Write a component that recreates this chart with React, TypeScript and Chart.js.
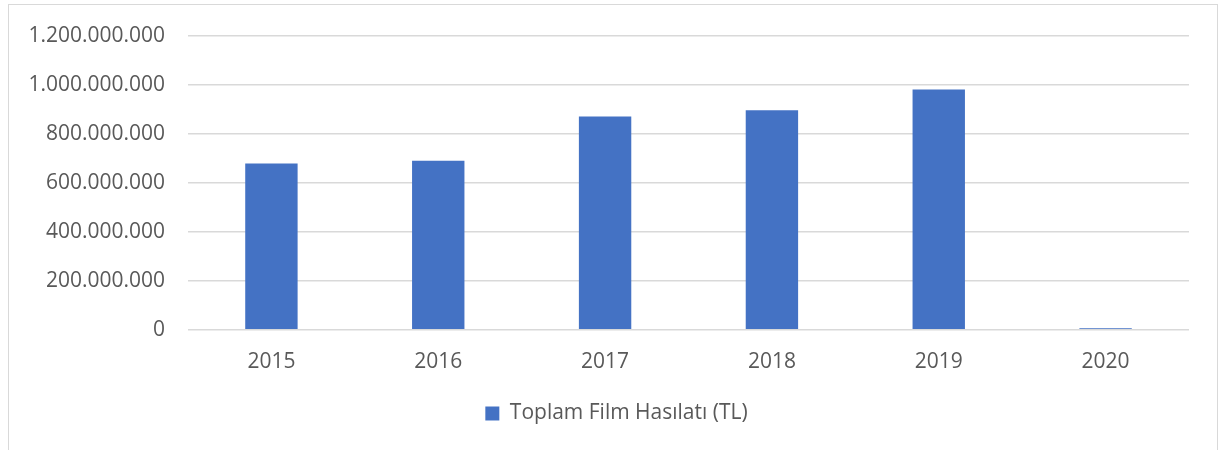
import React, { useEffect, useRef } from "react";
import { Chart, registerables } from "chart.js";

Chart.register(...registerables);

const categories = ["2015", "2016", "2017", "2018", "2019", "2020"];
const revenue = [678000000, 690000000, 870000000, 896000000, 980000000, 6000000];
const seriesLabel = "Toplam Film Hasılatı (TL)";
const yMin = 0;
const yMax = 1200000000;
const yStep = 200000000;

const fmt = (v: number) => String(Math.round(v)).replace(/\B(?=(\d{3})+(?!\d))/g, ".");

const legendShift = {
  id: "legendShift",
  afterLayout(chart: any) {
    if (chart.legend) {
      chart.legend.left += 22;
      chart.legend.right += 22;
    }
  },
};

export default function App() {
  const ref = useRef<HTMLCanvasElement | null>(null);
  useEffect(() => {
    if (!ref.current) return;
    const font = { family: "'Open Sans', sans-serif", size: 21 };
    const chart = new Chart(ref.current, {
      type: "bar",
      data: {
        labels: categories,
        datasets: [
          {
            label: seriesLabel,
            data: revenue,
            backgroundColor: "#4472C4",
            borderWidth: 0,
            categoryPercentage: 1,
            barPercentage: 0.314,
          },
        ],
      },
      plugins: [legendShift],
      options: {
        animation: false,
        responsive: false,
        maintainAspectRatio: false,
        layout: { padding: { left: 0, right: 32, top: 31, bottom: 16 } },
        plugins: {
          legend: {
            position: "bottom",
            labels: {
              color: "#595959",
              font,
              boxWidth: 14,
              boxHeight: 14,
              padding: 9,
            },
          },
          tooltip: { enabled: false },
        },
        scales: {
          x: {
            grid: { display: false, drawTicks: false },
            border: { display: false },
            ticks: { color: "#595959", font, padding: 19.5 },
          },
          y: {
            min: yMin,
            max: yMax,
            afterFit: (s: any) => {
              s.width = 188;
            },
            grid: { color: "#d9d9d9", lineWidth: 1.5, drawTicks: false },
            border: { display: false },
            ticks: {
              stepSize: yStep,
              color: "#595959",
              font,
              padding: 23,
              callback: (v: any) => fmt(Number(v)),
            },
          },
        },
      },
    });
    return () => chart.destroy();
  }, []);
  return (
    <div style={{ position: "fixed", left: 0, top: 0, width: 1221, height: 450, background: "#fff", overflow: "hidden" }}>
      <canvas ref={ref} width={1221} height={450} style={{ position: "absolute", left: 0, top: 0, width: 1221, height: 450 }} />
      <div
        style={{
          position: "absolute",
          left: 8,
          top: 4,
          width: 1208,
          height: 470,
          border: "1.5px solid #d9d9d9",
          borderBottom: "none",
          pointerEvents: "none",
        }}
      />
    </div>
  );
}
